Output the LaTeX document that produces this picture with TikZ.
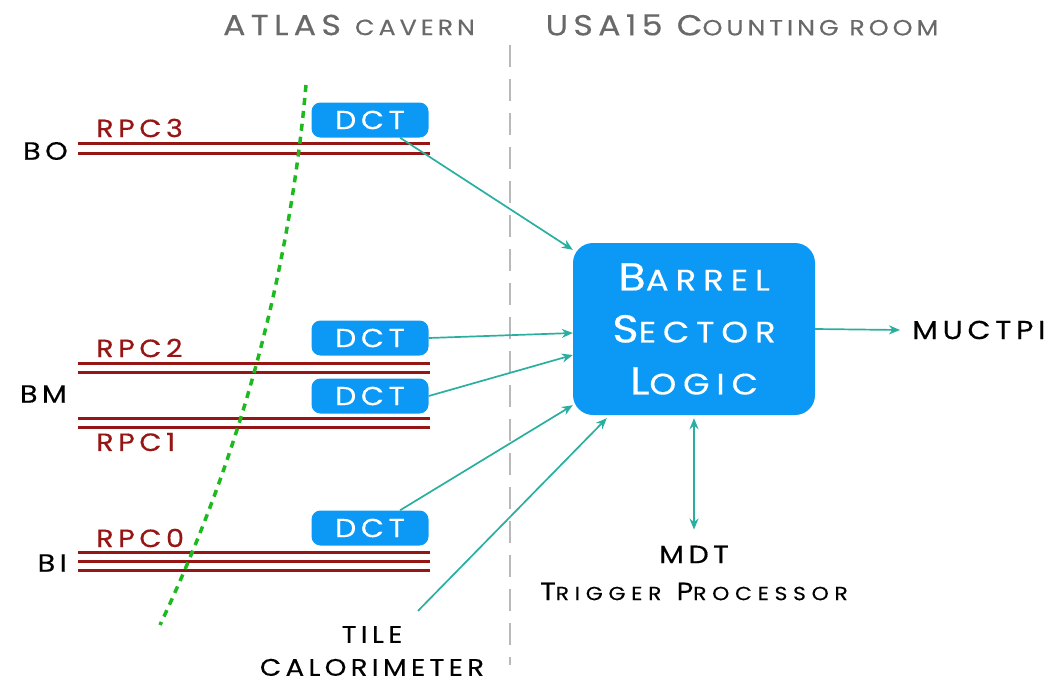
\documentclass[tikz,border=0pt]{standalone}
\usepackage{fontspec}
\setmainfont{Poppins}[LetterSpace=18, FakeStretch=1.15, FakeBold=0.3]
\usetikzlibrary{positioning,arrows.meta}

\definecolor{dctblue}{RGB}{12,152,245}
\definecolor{linkteal}{RGB}{40,175,160}
\definecolor{rpcred}{RGB}{150,22,22}
\definecolor{trackgreen}{RGB}{30,185,30}
\definecolor{hdrgray}{RGB}{105,105,105}

% fake small caps: the lower letters set a bit smaller
\makeatletter
\newcommand\lowcaps[1]{{\fontsize{\the\dimexpr\f@size pt*19/25\relax}{\f@baselineskip}\selectfont#1}}
\makeatother

\begin{document}
\begin{tikzpicture}[
    x=1pt, y=-1pt,
    lbl/.style={font=\fontsize{25}{29}\selectfont, text=black, inner sep=0pt},
    rpclbl/.style={lbl, text=rpcred},
    hdr/.style={lbl, text=hdrgray, font=\fontsize{29}{33}\selectfont},
    dct/.style={fill=dctblue, rounded corners=9pt, minimum width=117pt,
                minimum height=35pt, text=white, inner sep=0pt,
                font=\fontsize{26}{30}\selectfont},
    rpc/.style={rpcred, line width=3pt},
    link/.style={-{Stealth[length=11pt, width=9pt]}, linkteal, line width=1.7pt},
  ]
  \useasboundingbox (0,0) rectangle (1060,683);

  % cavern / counting room split
  \node[hdr] (cavern) at (349,25) {ATLAS \lowcaps{CAVERN}};
  \node[hdr] (usa) at (742,25) {USA15 C\lowcaps{OUNTING ROOM}};
  \draw[gray!55, line width=2.5pt, dash pattern=on 22pt off 12pt] (510,45) -- (510,665);

  % RPC stations
  \draw[rpc] (78,143) -- (430,143);
  \draw[rpc] (78,153) -- (430,153);
  \draw[rpc] (78,363) -- (430,363);
  \draw[rpc] (78,372) -- (430,372);
  \draw[rpc] (78,418) -- (430,418);
  \draw[rpc] (78,427) -- (430,427);
  \draw[rpc] (78,552) -- (430,552);
  \draw[rpc] (78,561) -- (430,561);
  \draw[rpc] (78,570) -- (430,570);

  \node[rpclbl, anchor=west] (rpc3) at (96,128) {RPC3};
  \node[rpclbl, anchor=west] (rpc2) at (96,348) {RPC2};
  \node[rpclbl, anchor=west] (rpc1) at (96,442) {RPC1};
  \node[rpclbl, anchor=west] (rpc0) at (96,538) {RPC0};

  \node[lbl, anchor=east] (bo) at (68,151) {BO};
  \node[lbl, anchor=east] (bm) at (67,394) {BM};
  \node[lbl, anchor=east] (bi) at (67,563) {BI};

  % muon track
  \draw[trackgreen, line width=3.5pt, dash pattern=on 7pt off 6pt]
    (306,85) .. controls (290,265) and (245,445) .. (160,625);

  % on-detector boards
  \node[dct] (dct3) at (370,120) {DCT};
  \node[dct] (dct2) at (370,338) {DCT};
  \node[dct] (dct1) at (370,396) {DCT};
  \node[dct] (dct0) at (370,528) {DCT};

  % sector logic and its neighbours
  \node[fill=dctblue, rounded corners=20pt, minimum width=242pt, minimum height=172pt,
        text=white, align=center, font=\fontsize{39}{52}\selectfont\addfontfeatures{LetterSpace=23}]
    (bsl) at (694,329) {B\lowcaps{ARREL}\\S\lowcaps{ECTOR}\\L\lowcaps{OGIC}};
  \node[lbl, anchor=west, font=\fontsize{26}{30}\selectfont] (muctpi) at (912,330) {MUCTPI};
  \node[lbl, align=center, font=\fontsize{25}{37}\selectfont]
    (mdt) at (694,573) {MDT\\\addfontfeatures{LetterSpace=30}T\lowcaps{RIGGER} P\lowcaps{ROCESSOR}};
  \node[lbl, align=center, font=\fontsize{24}{33}\selectfont]
    (tile) at (372,651) {TILE\\CALORIMETER};

  \draw[link] ([xshift=30pt]dct3.south) -- ([yshift=-7pt]bsl.north west);
  \draw[link] (dct2.east) -- ([yshift=-4pt]bsl.west);
  \draw[link] (dct1.east) -- ([yshift=-26pt]bsl.west);
  \draw[link] ([xshift=30pt]dct0.north) -- ([yshift=10pt]bsl.south west);
  \draw[link] ([xshift=46pt, yshift=15pt]tile.north) -- ([xshift=34pt, yshift=-3pt]bsl.south west);
  \draw[link, {Stealth[length=11pt, width=9pt]}-{Stealth[length=11pt, width=9pt]}]
    ([yshift=-3pt]bsl.south) -- ([yshift=16pt]mdt.north);
  \draw[link] (bsl.east) -- ([xshift=-12pt]muctpi.west);
\end{tikzpicture}
\end{document}
